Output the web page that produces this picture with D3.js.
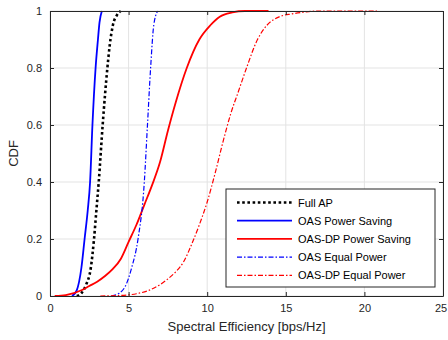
<!DOCTYPE html>
<html><head><meta charset="utf-8">
<script src="https://cdn.jsdelivr.net/npm/d3@7"></script>
<style>body{margin:0;background:#fff;} svg{display:block;font-family:"Liberation Sans",Arial,sans-serif;}</style>
</head><body>
<svg id="c" width="448" height="340"></svg>
<script>
const xTicks = [0,5,10,15,20,25];
const yTicks = [0,0.2,0.4,0.6,0.8,1];
const yTickLabels = ["0","0.2","0.4","0.6","0.8","1"];
const seriesNames = ["Full AP","OAS Power Saving","OAS-DP Power Saving","OAS Equal Power","OAS-DP Equal Power"];

const fullAP = [[1.7,0],[2.0,0.01],[2.3,0.04],[2.6,0.1],[2.8,0.2],[2.95,0.3],[3.1,0.4],[3.35,0.6],[3.65,0.8],[3.8,0.88],[4.0,0.95],[4.25,0.985],[4.5,1.0]];
const oasPS = [[1.4,0],[1.7,0.02],[2.0,0.1],[2.2,0.2],[2.4,0.3],[2.55,0.4],[2.7,0.6],[2.9,0.8],[3.05,0.9],[3.15,0.96],[3.3,1.0]];
const oasdpPS = [[0.3,0],[1.0,0.003],[2.0,0.02],[2.5,0.035],[3.0,0.05],[3.5,0.07],[4.0,0.095],[4.5,0.13],[5.0,0.19],[5.5,0.25],[6.0,0.32],[6.5,0.39],[7.0,0.47],[7.5,0.58],[8.0,0.68],[8.7,0.8],[9.5,0.9],[10.2,0.95],[10.8,0.98],[11.6,0.995],[12.4,1.0],[13.9,1.0]];
const oasEP = [[3.9,0],[4.4,0.01],[4.8,0.035],[5.2,0.1],[5.6,0.2],[6.0,0.4],[6.2,0.6],[6.4,0.8],[6.6,0.95],[6.85,1.0]];
const oasdpEP = [[3.2,0],[4.5,0.002],[5.5,0.008],[6.3,0.02],[7.0,0.04],[7.5,0.06],[8.0,0.085],[8.5,0.12],[9.0,0.18],[9.5,0.25],[10.0,0.33],[10.5,0.43],[11.0,0.54],[11.5,0.64],[12.0,0.72],[12.5,0.8],[13.2,0.9],[13.8,0.95],[14.6,0.98],[15.4,0.99],[16.3,0.997],[17.2,1.0],[20.8,1.0]];

const seriesData = [fullAP, oasPS, oasdpPS, oasEP, oasdpEP];
const styles = [
  {color:"#000000", width:2.6, dash:"2.6,2.6"},
  {color:"#0000ff", width:1.8, dash:null},
  {color:"#ff0000", width:1.8, dash:null},
  {color:"#0000ff", width:1.2, dash:"5,2,1.5,2"},
  {color:"#ff0000", width:1.2, dash:"5,2,1.5,2"}
];

const svg = d3.select("#c");
const L=50, R=443, T=11, B=296;
const x = d3.scaleLinear().domain([0,25]).range([L,R]);
const y = d3.scaleLinear().domain([0,1]).range([B,T]);
const axisColor = "#262626";

// grid
const g = svg.append("g");
g.selectAll(".gx").data(xTicks).enter().append("line")
  .attr("x1",d=>x(d)).attr("x2",d=>x(d)).attr("y1",T).attr("y2",B)
  .attr("stroke","#e3e3e3").attr("stroke-width",1);
g.selectAll(".gy").data(yTicks).enter().append("line")
  .attr("y1",d=>y(d)).attr("y2",d=>y(d)).attr("x1",L).attr("x2",R)
  .attr("stroke","#e3e3e3").attr("stroke-width",1);

// lines
const line = d3.line().x(d=>x(d[0])).y(d=>y(d[1])).curve(d3.curveMonotoneX);
svg.append("clipPath").attr("id","clp").append("rect").attr("x",L).attr("y",T-3).attr("width",R-L).attr("height",B-T+3);
seriesData.forEach((s,i)=>{
  const st = styles[i];
  svg.append("path").datum(s).attr("d",line)
    .attr("fill","none").attr("stroke",st.color).attr("stroke-width",st.width)
    .attr("stroke-dasharray",st.dash).attr("clip-path","url(#clp)");
});

// axes
const fs = "11px";
const xb = svg.append("g").attr("transform",`translate(0,${B})`)
  .call(d3.axisBottom(x).tickValues(xTicks).tickSizeInner(-4).tickSizeOuter(0).tickPadding(8).tickFormat(d3.format("d")));
const xt = svg.append("g").attr("transform",`translate(0,${T})`)
  .call(d3.axisTop(x).tickValues(xTicks).tickSizeInner(-4).tickSizeOuter(0).tickFormat(""));
const yl = svg.append("g").attr("transform",`translate(${L},0)`)
  .call(d3.axisLeft(y).tickValues(yTicks).tickSizeInner(-4).tickSizeOuter(0).tickPadding(8).tickFormat((d,i)=>yTickLabels[i]));
const yr = svg.append("g").attr("transform",`translate(${R},0)`)
  .call(d3.axisRight(y).tickValues(yTicks).tickSizeInner(-4).tickSizeOuter(0).tickFormat(""));
[xb,xt,yl,yr].forEach(a=>{
  a.select(".domain").attr("stroke",axisColor).attr("stroke-width",1);
  a.selectAll(".tick line").attr("stroke",axisColor);
  a.selectAll(".tick text").attr("fill",axisColor).style("font-size",fs).style("font-family","'Liberation Sans',Arial,sans-serif");
});
xb.selectAll(".tick text").filter(d=>d===25).attr("dx","-2.5");

// axis labels
svg.append("text").attr("x",(L+R)/2).attr("y",331).attr("text-anchor","middle")
  .attr("fill",axisColor).style("font-size","13px").text("Spectral Efficiency [bps/Hz]");
svg.append("text").attr("transform",`translate(18,${(T+B)/2}) rotate(-90)`).attr("text-anchor","middle")
  .attr("fill",axisColor).style("font-size","13px").text("CDF");

// legend
const lg = svg.append("g");
lg.append("rect").attr("x",226).attr("y",189).attr("width",209).attr("height",98)
  .attr("fill","#fff").attr("stroke",axisColor).attr("stroke-width",1);
seriesNames.forEach((n,i)=>{
  const yy = 202.5 + i*18.2;
  const st = styles[i];
  lg.append("line").attr("x1",237).attr("x2",292).attr("y1",yy).attr("y2",yy)
    .attr("stroke",st.color).attr("stroke-width",st.width).attr("stroke-dasharray",st.dash);
  lg.append("text").attr("x",298).attr("y",yy+4).attr("fill","#000").style("font-size","11px").text(n);
});
</script>
</body></html>
